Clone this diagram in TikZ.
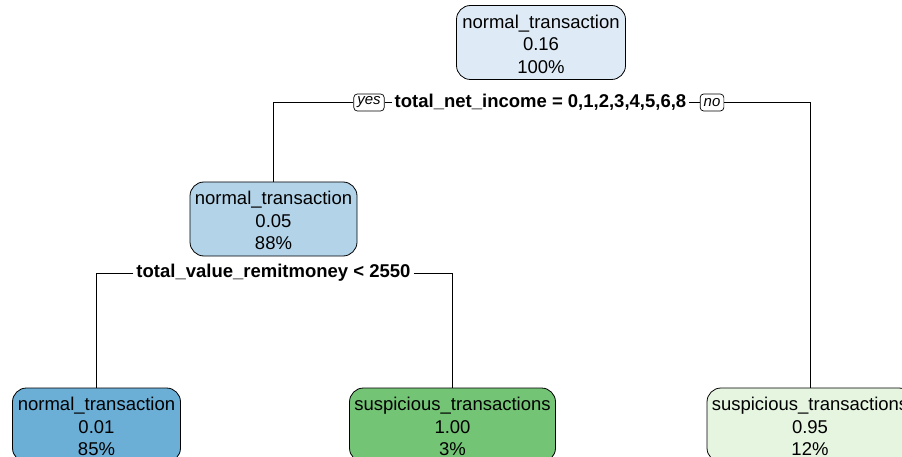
\documentclass[tikz,border=0pt]{standalone}
\usepackage{fontspec}
\setmainfont{Liberation Sans}
\definecolor{cA}{HTML}{DEEBF7}
\definecolor{cB}{HTML}{B2D3E8}
\definecolor{cC}{HTML}{6BAED6}
\definecolor{cD}{HTML}{74C476}
\definecolor{cE}{HTML}{E5F5E0}
\newcommand{\tstrut}{\rule{0pt}{17pt}}
\begin{document}
\begin{tikzpicture}[x=1pt,y=-1pt,
  treenode/.style={draw=black, line width=0.8pt, rounded corners=14pt, minimum height=74pt, align=center, inner sep=0pt, font=\fontsize{18.5}{22.5}\selectfont},
  splitlab/.style={inner xsep=3pt, inner ysep=2pt, font=\fontsize{18.5}{20}\selectfont\bfseries},
  yesno/.style={draw=black, line width=0.7pt, rounded corners=3.5pt, inner xsep=3.5pt, inner ysep=1pt, font=\fontsize{15}{16}\selectfont\itshape, minimum height=17pt},
  conn/.style={line width=0.8pt}]
\useasboundingbox (0,0) rectangle (902,457);
\clip (0,0) rectangle (902,457);
\node[treenode, fill=cA, minimum width=169pt] (root) at (541,42.5) {\tstrut normal\_transaction\\0.16\\100\%};
\node[treenode, fill=cB, minimum width=167pt] (n2) at (273.5,219) {\tstrut normal\_transaction\\0.05\\88\%};
\node[treenode, fill=cC, minimum width=168pt] (bl) at (96.5,425) {\tstrut normal\_transaction\\0.01\\85\%};
\node[treenode, fill=cD, minimum width=206pt] (bm) at (452.5,425) {\tstrut suspicious\_transactions\\1.00\\3\%};
\node[treenode, fill=cE, minimum width=206pt] (br) at (810,425) {\tstrut suspicious\_transactions\\0.95\\12\%};
\node[splitlab] (s1) at (540.5,102) {total\_net\_income = 0,1,2,3,4,5,6,8};
\node[yesno] (yes) at (369,102.5) {yes};
\node[yesno] (no) at (712,102.5) {no};
\node[splitlab] (s2) at (273.5,273) {total\_value\_remitmoney < 2550};
\draw[conn] (yes.west) -| (n2.north);
\draw[conn] (yes.east) -- (yes.east -| s1.west);
\draw[conn] (s1.east |- no.west) -- (no.west);
\draw[conn] (no.east) -| (br.north);
\draw[conn] (s2.west) -| (bl.north);
\draw[conn] (s2.east) -| (bm.north);
\end{tikzpicture}
\end{document}
